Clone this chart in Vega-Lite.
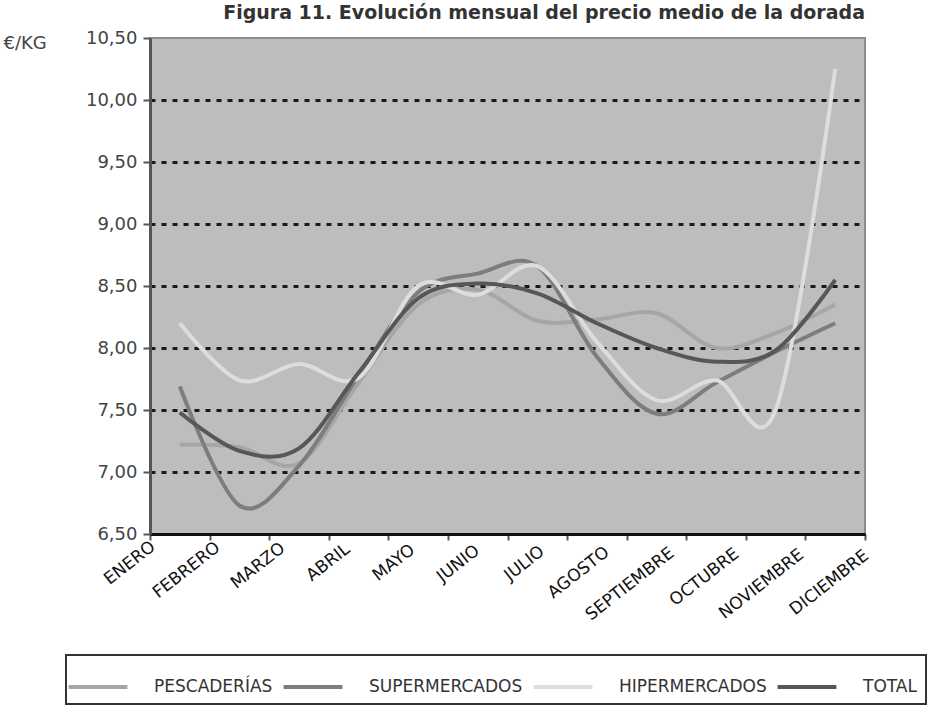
{
  "$schema": "https://vega.github.io/schema/vega-lite/v6.json",
  "width": 715,
  "height": 496,
  "autosize": {"type": "none"},
  "padding": {"left": 150, "top": 38, "right": 66, "bottom": 175},
  "background": "white",
  "title": {
    "text": "Figura 11. Evolución mensual del precio medio de la dorada",
    "anchor": "end",
    "frame": "group",
    "offset": 6,
    "font": "DejaVu Sans",
    "fontSize": 19,
    "fontWeight": "bold",
    "color": "#333333"
  },
  "data": {
    "values": [
      {"mes": "ENERO", "canal": "PESCADERÍAS", "precio": 7.22},
      {"mes": "FEBRERO", "canal": "PESCADERÍAS", "precio": 7.2},
      {"mes": "MARZO", "canal": "PESCADERÍAS", "precio": 7.07},
      {"mes": "ABRIL", "canal": "PESCADERÍAS", "precio": 7.72},
      {"mes": "MAYO", "canal": "PESCADERÍAS", "precio": 8.35},
      {"mes": "JUNIO", "canal": "PESCADERÍAS", "precio": 8.47},
      {"mes": "JULIO", "canal": "PESCADERÍAS", "precio": 8.22},
      {"mes": "AGOSTO", "canal": "PESCADERÍAS", "precio": 8.23},
      {"mes": "SEPTIEMBRE", "canal": "PESCADERÍAS", "precio": 8.28},
      {"mes": "OCTUBRE", "canal": "PESCADERÍAS", "precio": 8.0},
      {"mes": "NOVIEMBRE", "canal": "PESCADERÍAS", "precio": 8.12},
      {"mes": "DICIEMBRE", "canal": "PESCADERÍAS", "precio": 8.35},
      {"mes": "ENERO", "canal": "SUPERMERCADOS", "precio": 7.69},
      {"mes": "FEBRERO", "canal": "SUPERMERCADOS", "precio": 6.73},
      {"mes": "MARZO", "canal": "SUPERMERCADOS", "precio": 7.05},
      {"mes": "ABRIL", "canal": "SUPERMERCADOS", "precio": 7.78},
      {"mes": "MAYO", "canal": "SUPERMERCADOS", "precio": 8.45},
      {"mes": "JUNIO", "canal": "SUPERMERCADOS", "precio": 8.6},
      {"mes": "JULIO", "canal": "SUPERMERCADOS", "precio": 8.66},
      {"mes": "AGOSTO", "canal": "SUPERMERCADOS", "precio": 7.93},
      {"mes": "SEPTIEMBRE", "canal": "SUPERMERCADOS", "precio": 7.47},
      {"mes": "OCTUBRE", "canal": "SUPERMERCADOS", "precio": 7.72},
      {"mes": "NOVIEMBRE", "canal": "SUPERMERCADOS", "precio": 7.97},
      {"mes": "DICIEMBRE", "canal": "SUPERMERCADOS", "precio": 8.2},
      {"mes": "ENERO", "canal": "HIPERMERCADOS", "precio": 8.2},
      {"mes": "FEBRERO", "canal": "HIPERMERCADOS", "precio": 7.74},
      {"mes": "MARZO", "canal": "HIPERMERCADOS", "precio": 7.87},
      {"mes": "ABRIL", "canal": "HIPERMERCADOS", "precio": 7.76},
      {"mes": "MAYO", "canal": "HIPERMERCADOS", "precio": 8.5},
      {"mes": "JUNIO", "canal": "HIPERMERCADOS", "precio": 8.43},
      {"mes": "JULIO", "canal": "HIPERMERCADOS", "precio": 8.66},
      {"mes": "AGOSTO", "canal": "HIPERMERCADOS", "precio": 8.05},
      {"mes": "SEPTIEMBRE", "canal": "HIPERMERCADOS", "precio": 7.58},
      {"mes": "OCTUBRE", "canal": "HIPERMERCADOS", "precio": 7.74},
      {"mes": "NOVIEMBRE", "canal": "HIPERMERCADOS", "precio": 7.5},
      {"mes": "DICIEMBRE", "canal": "HIPERMERCADOS", "precio": 10.25},
      {"mes": "ENERO", "canal": "TOTAL", "precio": 7.48},
      {"mes": "FEBRERO", "canal": "TOTAL", "precio": 7.17},
      {"mes": "MARZO", "canal": "TOTAL", "precio": 7.19},
      {"mes": "ABRIL", "canal": "TOTAL", "precio": 7.8},
      {"mes": "MAYO", "canal": "TOTAL", "precio": 8.4},
      {"mes": "JUNIO", "canal": "TOTAL", "precio": 8.52},
      {"mes": "JULIO", "canal": "TOTAL", "precio": 8.44},
      {"mes": "AGOSTO", "canal": "TOTAL", "precio": 8.2},
      {"mes": "SEPTIEMBRE", "canal": "TOTAL", "precio": 8.0},
      {"mes": "OCTUBRE", "canal": "TOTAL", "precio": 7.89},
      {"mes": "NOVIEMBRE", "canal": "TOTAL", "precio": 7.98},
      {"mes": "DICIEMBRE", "canal": "TOTAL", "precio": 8.55}
    ]
  },
  "mark": {"type": "line", "interpolate": "cardinal", "strokeCap": "butt"},
  "encoding": {
    "x": {
      "field": "mes",
      "type": "ordinal",
      "sort": ["ENERO", "FEBRERO", "MARZO", "ABRIL", "MAYO", "JUNIO", "JULIO", "AGOSTO", "SEPTIEMBRE", "OCTUBRE", "NOVIEMBRE", "DICIEMBRE"],
      "bandPosition": 0.5,
      "scale": {"type": "band", "paddingInner": 0, "paddingOuter": 0},
      "axis": {
        "title": null,
        "labelAngle": -38,
        "labelAlign": "right",
        "labelBaseline": "top",
        "labelFont": "DejaVu Sans",
        "labelFontSize": 17,
        "labelColor": "#111111",
        "labelPadding": {"expr": "-2+0.8*indexof(['ENERO','FEBRERO','MARZO','ABRIL','MAYO','JUNIO','JULIO','AGOSTO','SEPTIEMBRE','OCTUBRE','NOVIEMBRE','DICIEMBRE'], datum.value)"},
        "labelOverlap": false,
        "labelLimit": 300,
        "labelOffset": {"expr": "-32+5.27*indexof(['ENERO','FEBRERO','MARZO','ABRIL','MAYO','JUNIO','JULIO','AGOSTO','SEPTIEMBRE','OCTUBRE','NOVIEMBRE','DICIEMBRE'], datum.value)"},
        "tickBand": "extent",
        "tickSize": 6,
        "tickColor": "#555555",
        "tickWidth": 2,
        "domainColor": "#111111",
        "domainWidth": 3,
        "grid": false
      }
    },
    "y": {
      "field": "precio",
      "type": "quantitative",
      "scale": {"domain": [6.5, 10.5], "nice": false, "zero": false},
      "axis": {
        "values": [6.5, 7, 7.5, 8, 8.5, 9, 9.5, 10, 10.5],
        "labelExpr": "replace(format(datum.value, '.2f'), '.', ',')",
        "labelFont": "DejaVu Sans",
        "labelFontSize": 18,
        "labelColor": "#444444",
        "labelPadding": 6,
        "tickSize": 7,
        "tickColor": "#555555",
        "tickWidth": 2,
        "domainColor": "#555555",
        "domainWidth": 3,
        "grid": true,
        "gridColor": {"condition": {"test": "datum.value === 6.5 || datum.value === 10.5", "value": "rgba(0,0,0,0)"}, "value": "#1a1a1a"},
        "gridDash": [5, 6],
        "gridWidth": 3,
        "title": "€/KG",
        "titleAngle": 0,
        "titleX": -147,
        "titleY": 5,
        "titleAlign": "left",
        "titleBaseline": "middle",
        "titleFont": "DejaVu Sans",
        "titleFontSize": 18,
        "titleFontWeight": "normal",
        "titleColor": "#444444"
      }
    },
    "color": {
      "field": "canal",
      "type": "nominal",
      "sort": ["PESCADERÍAS", "SUPERMERCADOS", "HIPERMERCADOS", "TOTAL"],
      "scale": {
        "domain": ["PESCADERÍAS", "SUPERMERCADOS", "HIPERMERCADOS", "TOTAL"],
        "range": ["#a6a6a6", "#7d7d7d", "#dddddd", "#575757"]
      },
      "legend": {
        "title": null,
        "orient": "none",
        "legendX": -84,
        "legendY": 617,
        "direction": "horizontal",
        "symbolType": "M-1.4,0H1.4",
        "symbolSize": 1764,
        "symbolStrokeWidth": 5,
        "labelFont": "DejaVu Sans",
        "labelFontSize": 17,
        "labelColor": "#333333",
        "labelOffset": 33,
        "labelLimit": 300,
        "columnPadding": 2,
        "padding": 9,
        "strokeColor": "#333333",
        "fillColor": "white"
      }
    },
    "strokeWidth": {
      "field": "canal",
      "type": "nominal",
      "scale": {
        "domain": ["PESCADERÍAS", "SUPERMERCADOS", "HIPERMERCADOS", "TOTAL"],
        "range": [4, 4, 3, 4]
      },
      "legend": null
    }
  },
  "config": {
    "view": {"fill": "#bdbdbd", "stroke": "#8c8c8c", "strokeWidth": 2},
    "legend": {"strokeWidth": 2}
  }
}
